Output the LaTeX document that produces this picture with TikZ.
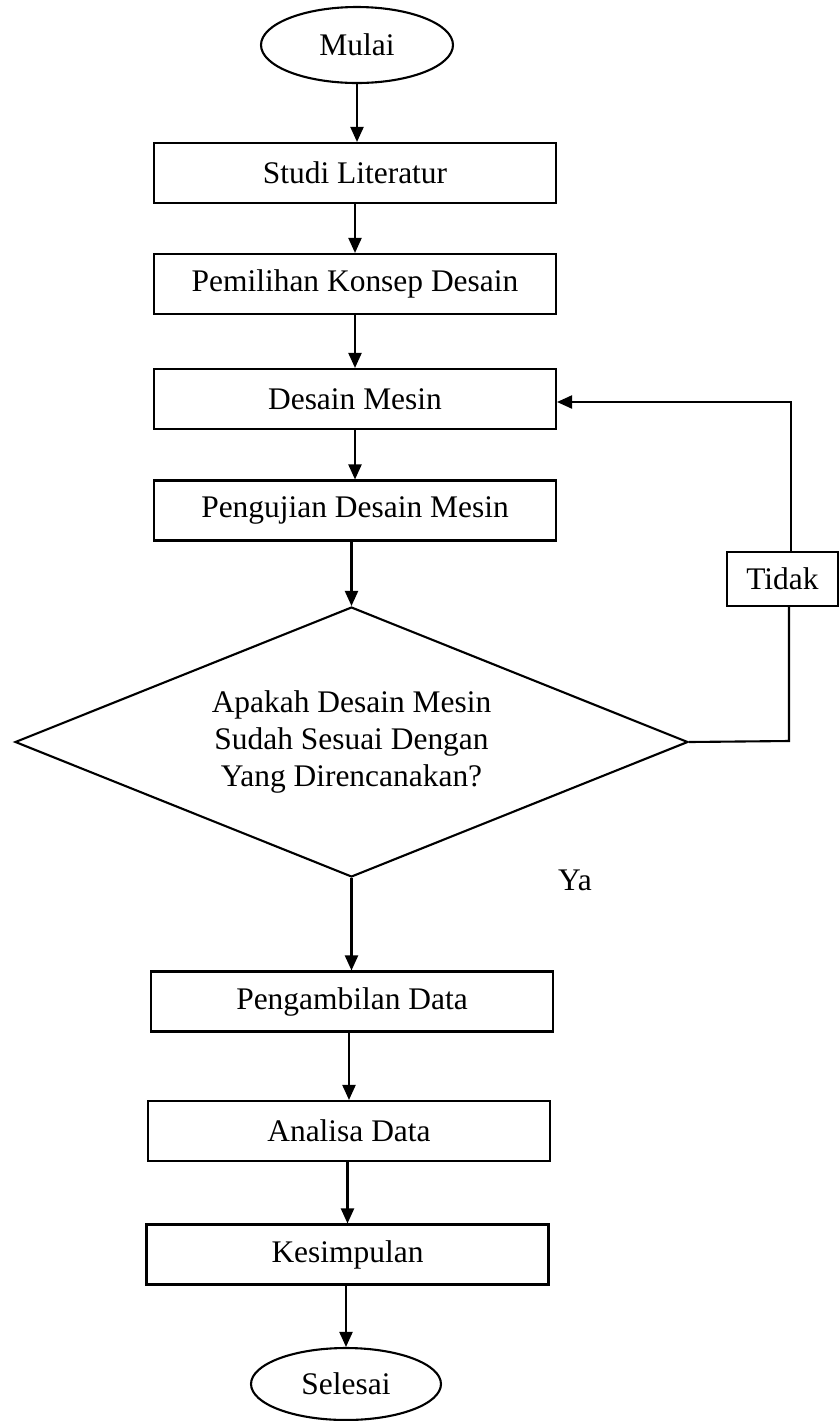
\documentclass[tikz,border=0pt]{standalone}
\usepackage{fontspec}
\setmainfont{Liberation Serif}
\usetikzlibrary{shapes.geometric,arrows.meta}

\begin{document}
\begin{tikzpicture}[
    x=0.02cm, y=-0.02cm,
    font=\fontsize{17.9}{21}\selectfont,
    box/.style={draw, line width=1.2pt, align=center, minimum width=8.04cm, minimum height=1.2cm, inner sep=0pt},
    term/.style={draw, ellipse, line width=1.2pt, inner sep=0pt},
    decision/.style={draw, diamond, line width=1.2pt, align=center, aspect=2.49, inner sep=0pt, minimum width=13.46cm, minimum height=5.4cm},
    arrow/.style={-{Triangle[length=0.3cm,width=0.26cm]}, line width=1.2pt},
    line/.style={line width=1.2pt}
  ]
    \useasboundingbox (0,0) rectangle (839,1421);

    \node[term, minimum width=3.84cm, minimum height=1.52cm] (mulai) at (357,45) {Mulai};
    \node[box] (studi) at (355,173) {Studi Literatur};
    \node[box] (konsep) at (355,284) {Pemilihan Konsep Desain};
    \node[box] (desain) at (355,399) {Desain Mesin};
    \node[box] (uji) at (355,510.5) {Pengujian Desain Mesin};
    \node[decision] (cek) at (351.5,742) {Apakah Desain Mesin\\Sudah Sesuai Dengan\\Yang Direncanakan?};
    \node[box] (ambil) at (352,1001.5) {Pengambilan Data};
    \node[box] (analisa) at (349,1131) {Analisa Data};
    \node[box] (simpul) at (347.5,1254.5) {Kesimpulan};
    \node[term, minimum width=3.8cm, minimum height=1.44cm] (selesai) at (346,1384) {Selesai};

    \node[draw, line width=1.2pt, minimum width=2.22cm, minimum height=1.08cm, inner sep=0pt] (tidak) at (782.5,579) {Tidak};
    \node (ya) at (575,880) {Ya};
    \coordinate (loopbot) at (789,741);
    \coordinate (looptop) at (791,402);

    \draw[arrow] (mulai.south) -- (mulai.south |- studi.north);
    \draw[arrow] (studi) -- (konsep);
    \draw[arrow] (konsep) -- (desain);
    \draw[arrow] (desain) -- (uji);
    \draw[arrow] (uji.south -| cek.north) -- (cek.north);
    \draw[arrow] (cek.south) -- (cek.south |- ambil.north);
    \draw[arrow] (ambil.south -| analisa) -- (analisa.north);
    \draw[arrow] (analisa.south -| simpul) -- (simpul.north);
    \draw[arrow] (simpul.south -| selesai) -- (selesai.north);

    % jalur kembali jika tidak sesuai
    \draw[line] (cek.east) -- (loopbot) -- (loopbot |- tidak.south);
    \draw[arrow] (looptop |- tidak.north) -- (looptop) -- (desain.east |- looptop);
  \end{tikzpicture}
\end{document}
